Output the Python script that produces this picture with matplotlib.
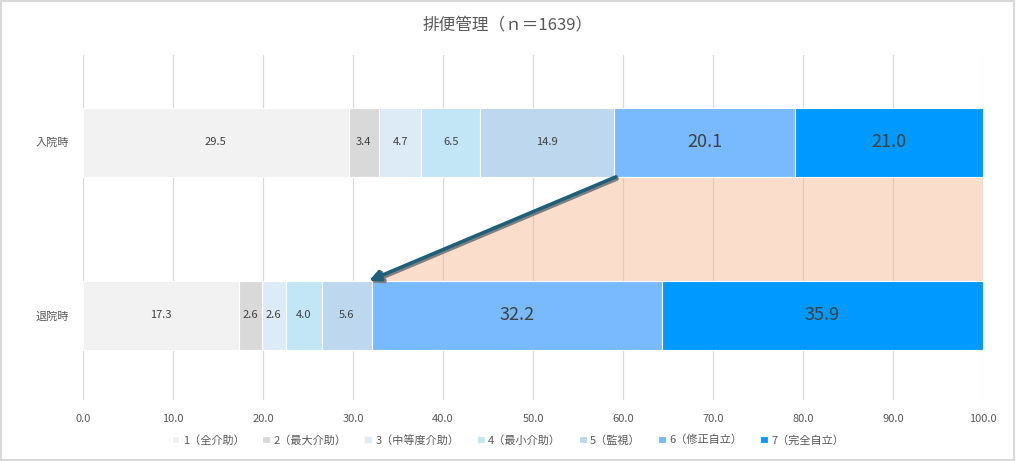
import matplotlib.pyplot as plt
import numpy as np
from matplotlib.patches import Polygon, Rectangle

plt.rcParams['font.family'] = ['Noto Sans CJK JP', 'DejaVu Sans']

categories = ['入院時', '退院時']
levels = ['1（全介助）', '2（最大介助）', '3（中等度介助）', '4（最小介助）',
          '5（監視）', '6（修正自立）', '7（完全自立）']
admission = [29.5, 3.4, 4.7, 6.5, 14.9, 20.1, 21.0]
discharge = [17.3, 2.6, 2.6, 4.0, 5.6, 32.2, 35.9]
xticks = np.arange(0, 101, 10)

colors = ['#F2F2F2', '#D9D9D9', '#DDEBF7', '#C3E6F6', '#BDD7EE', '#79BAFF', '#0099FF']
label_sizes = [8, 8, 8, 8, 8, 13, 13]

fig = plt.figure(figsize=(10.16, 4.61), dpi=100)
ax = fig.add_axes([83 / 1016, 61 / 461, 900 / 1016, 345 / 461])

data = np.array([admission, discharge])
ypos = np.arange(len(categories))
bar_h = 0.4
left = np.zeros(len(categories))
for i, name in enumerate(levels):
    bars = ax.barh(ypos, data[:, i], left=left, height=bar_h, color=colors[i],
                   edgecolor='white', linewidth=0.8, label=name, zorder=3)
    ax.bar_label(bars, labels=['%.1f' % v for v in data[:, i]], label_type='center',
                 fontsize=label_sizes[i], color='#404040')
    left += data[:, i]

# shaded band between level 6+ of the two bars
cum_adm = sum(admission[:5])
cum_dis = sum(discharge[:5])
band = Polygon([(cum_adm, ypos[0] + bar_h / 2), (100, ypos[0] + bar_h / 2),
                (100, ypos[1] - bar_h / 2), (cum_dis, ypos[1] - bar_h / 2)],
               closed=True, facecolor='#F4B183', alpha=0.42, edgecolor='none', zorder=2)
ax.add_patch(band)

# arrow with shadow
ax.annotate('', xy=(cum_dis - 0.2, ypos[1] - bar_h / 2 + 0.01),
            xytext=(cum_adm + 0.3, ypos[0] + bar_h / 2 + 0.01),
            arrowprops=dict(arrowstyle='-|>', color='#7F7F7F', lw=3.2,
                            mutation_scale=16, shrinkA=0, shrinkB=0), zorder=4)
ax.annotate('', xy=(cum_dis - 0.3, ypos[1] - bar_h / 2),
            xytext=(cum_adm + 0.2, ypos[0] + bar_h / 2),
            arrowprops=dict(arrowstyle='-|>', color='#1F5F7A', lw=2.6,
                            mutation_scale=16, shrinkA=0, shrinkB=0), zorder=5)

ax.set_xlim(0, 100)
ax.set_ylim(1.49, -0.505)
ax.set_xticks(xticks)
ax.set_xticklabels(['%.1f' % t for t in xticks])
ax.set_yticks(ypos)
ax.set_yticklabels(categories)
ax.tick_params(length=0, labelsize=8, labelcolor='#595959')
ax.tick_params(axis='x', pad=10)
ax.tick_params(axis='y', pad=10)
ax.grid(axis='x', color='#D9D9D9', linewidth=0.9, zorder=1)
ax.set_axisbelow(True)
for s in ax.spines.values():
    s.set_visible(False)

fig.text(0.5, 1 - 25 / 461, '排便管理（ｎ＝1639）', ha='center', va='center',
         fontsize=12, color='#595959')

handles, labs = ax.get_legend_handles_labels()
fig.legend(handles, labs, loc='center', bbox_to_anchor=(0.5, 1 - 440 / 461), ncol=7,
           frameon=False, fontsize=8, labelcolor='#595959', handlelength=0.7,
           handleheight=0.7, handletextpad=0.3, columnspacing=1.6)

fig.patches.append(Rectangle((0.001, 0.002), 0.997, 0.995, transform=fig.transFigure,
                             fill=False, edgecolor='#D9D9D9', linewidth=1.5))

fig.savefig('out.png', dpi=100)
